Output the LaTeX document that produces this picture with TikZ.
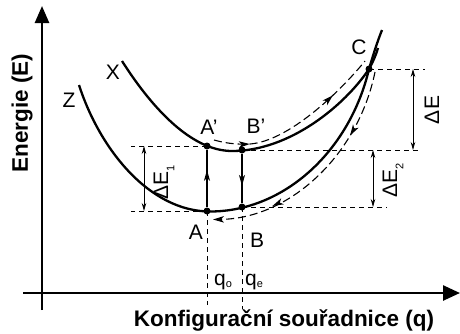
\documentclass[tikz,border=0pt]{standalone}
\usepackage{fontspec}
\setmainfont{Liberation Sans}
\usetikzlibrary{arrows.meta,decorations.markings}
\begin{document}
\begin{tikzpicture}[x=1pt,y=-1pt,
  axis/.style={line width=2.6pt},
  curve/.style={line width=2.3pt},
  dcurve/.style={line width=1.1pt, dash pattern=on 8pt off 4pt},
  hdash/.style={line width=0.8pt, dash pattern=on 5pt off 4pt},
  vline/.style={line width=1.3pt},
  dimarrow/.style={line width=0.8pt, {Stealth[length=8pt,width=4.5pt]}-{Stealth[length=8pt,width=4.5pt]}},
  lbl/.style={font=\fontsize{21}{25}\selectfont, inner sep=0pt},
  blbl/.style={font=\fontsize{22.5}{26}\selectfont\bfseries, inner sep=0pt},
  dot/.style={circle, fill, inner sep=0pt, minimum size=7pt},
  mk/.style={postaction={decorate}, decoration={markings, mark=at position #1 with {\arrow{Stealth[length=11pt,width=6pt,inset=3pt]}}}},
  mktwo/.style 2 args={postaction={decorate}, decoration={markings,
     mark=at position #1 with {\arrow{Stealth[length=11pt,width=6.5pt,inset=3pt]}},
     mark=at position #2 with {\arrow{Stealth[length=11pt,width=6.5pt,inset=3pt]}}}},
]
\useasboundingbox (0,0) rectangle (460,333);

% axes
\coordinate (yb) at (42,310);
\coordinate (yt) at (42,6);
\coordinate (xl) at (23,293);
\coordinate (xr) at (460,293);
\draw[axis,-{Triangle[length=17pt,width=14pt]}] (yb) -- (yt);
\draw[axis,-{Triangle[length=17pt,width=15pt]}] (xl) -- (xr);
\node[blbl, rotate=90] (ylab) at (22,113) {Energie (E)};
\node[blbl, anchor=base] (xlab) at (284,326) {Konfigurační souřadnice (q)};

% points
\node[dot] (Ap) at (207,146) {};
\node[dot] (Bp) at (242,150) {};
\node[dot] (A) at (207,211) {};
\node[dot] (B) at (242,207) {};
\node[dot] (C) at (369,69) {};

% potential curves
\coordinate (Xs) at (122,61);
\coordinate (Xm) at (232,151);
\coordinate (Xe) at (378,48);
\coordinate (Zs) at (79,85);
\coordinate (Zm) at (210,211.5);
\coordinate (Ze) at (382,30);
\draw[curve] (Xs) .. controls (150,105) and (190,151) .. (Xm)
  .. controls (290,151) and (345,105) .. (C.center)
  .. controls (373,62) and (376,55) .. (Xe);
\draw[curve] (Zs) .. controls (100,150) and (150,211.5) .. (Zm)
  .. controls (285,211.5) and (350,150) .. (C.center)
  .. controls (374,52) and (378,40) .. (Ze);

% dashed trajectories
\coordinate (d1s) at (214,140);
\coordinate (d1m) at (250,144);
\coordinate (d1e) at (365,61);
\coordinate (d2s) at (375,72);
\coordinate (d2e) at (213,219.5);
\draw[dcurve, mktwo={0.2}{0.74}] (d1s) .. controls (228,144) and (240,144.5) .. (d1m)
  .. controls (288,141) and (338,94) .. (d1e);
\draw[dcurve, mktwo={0.29}{0.74}, -{Stealth[length=11pt,width=6.5pt,inset=3pt]}] (d2s) .. controls (358,155) and (290,218.5) .. (d2e);

% vertical transitions
\draw[vline, mk=0.65] (A) -- (Ap);
\draw[vline, mk=0.65] (Bp) -- (B);

% horizontal dashed levels
\coordinate (hApL) at (131,146);
\coordinate (hAL) at (131,211);
\coordinate (hBpR) at (420,150);
\coordinate (hBR) at (387,207);
\coordinate (hCR) at (425,69);
\draw[hdash] (Ap.center) -- (hApL);
\draw[hdash] (A.center) -- (hAL);
\draw[hdash] (Bp.center) -- (hBpR);
\draw[hdash] (B.center) -- (hBR);
\draw[hdash] (C.center) -- (hCR);

% vertical dashed to axis
\coordinate (qo) at (207,305);
\coordinate (qe) at (242,309);
\draw[hdash] (A.center) -- (qo);
\draw[hdash] (B.center) -- (qe);

% energy differences
\coordinate (e1t) at (144,146);
\coordinate (e1b) at (144,211);
\coordinate (e2t) at (373,150);
\coordinate (e2b) at (373,207);
\coordinate (et) at (413,69);
\coordinate (eb) at (413,150);
\draw[dimarrow] (e1t) -- (e1b);
\draw[dimarrow] (e2t) -- (e2b);
\draw[dimarrow] (et) -- (eb);
\node[lbl, rotate=90] (dE1) at (164,182) {ΔE\raisebox{-0.3em}{\fontsize{11}{11}\selectfont 1}};
\node[lbl, rotate=90] (dE2) at (393,180) {ΔE\raisebox{-0.3em}{\fontsize{11}{11}\selectfont 2}};
\node[lbl, rotate=90] (dE) at (432,110) {ΔE};

% labels
\node[lbl] (lAp) at (209,127) {A'};
\node[lbl] (lBp) at (256,126) {B'};
\node[lbl] (lA) at (196,232) {A};
\node[lbl] (lB) at (257,240) {B};
\node[lbl] (lC) at (359,47) {C};
\node[lbl] (lX) at (113,72) {X};
\node[lbl] (lZ) at (69,100) {Z};
\node[lbl, anchor=base west] (lqo) at (214,285) {q\raisebox{-0.1em}{\fontsize{11}{11}\selectfont o}};
\node[lbl, anchor=base west] (lqe) at (245,285) {q\raisebox{-0.1em}{\fontsize{11}{11}\selectfont e}};
\end{tikzpicture}
\end{document}
